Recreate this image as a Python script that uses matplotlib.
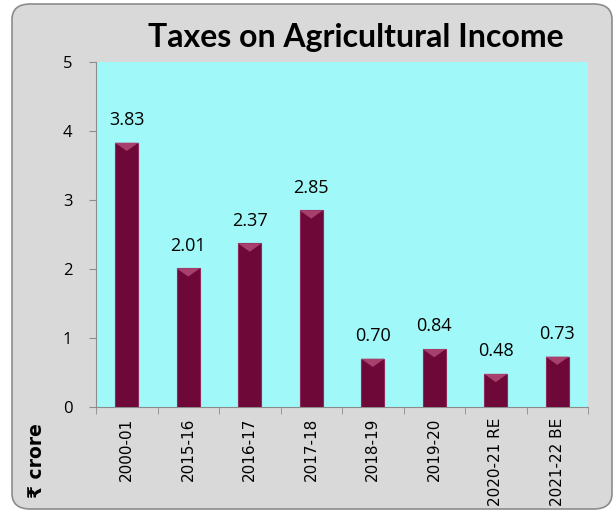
import matplotlib
matplotlib.use("Agg")
import matplotlib.pyplot as plt
from matplotlib.patches import FancyBboxPatch, Polygon

categories = ["2000-01", "2015-16", "2016-17", "2017-18", "2018-19", "2019-20", "2020-21 RE", "2021-22 BE"]
values = [3.83, 2.01, 2.37, 2.85, 0.70, 0.84, 0.48, 0.73]
value_labels = ["3.83", "2.01", "2.37", "2.85", "0.70", "0.84", "0.48", "0.73"]
yticks = [0, 1, 2, 3, 4, 5]

fig = plt.figure(figsize=(6.16, 5.16), dpi=100)
fig.patch.set_facecolor("white")

W, H = 616, 516
box = FancyBboxPatch((12 / W, 7 / H), (612 - 12) / W, (512 - 7) / H,
                     boxstyle="round,pad=0,rounding_size=0.03",
                     transform=fig.transFigure, facecolor="#d9d9d9",
                     edgecolor="#8c8c8c", linewidth=1.2, zorder=-5)
fig.patches.append(box)

ax = fig.add_axes([96 / W, 1 - 407 / H, (588 - 96) / W, (407 - 62) / H])
ax.set_zorder(2)
ax.set_facecolor("#a0f8f8")
x = list(range(len(categories)))
bw = 0.38
bars = ax.bar(x, values, width=bw, color="#6e0838", edgecolor="#8e2a58", linewidth=0.8, zorder=3)
# bevel highlight on top of each bar
for b in bars:
    x0, w, h = b.get_x(), b.get_width(), b.get_height()
    d = 0.12
    tri = Polygon([(x0, h), (x0 + w, h), (x0 + w / 2, h - d)], closed=True,
                  facecolor="#a8406e", edgecolor="none", zorder=4)
    ax.add_patch(tri)
for xi, v, lab in zip(x, values, value_labels):
    ax.text(xi, v + 0.2, lab, ha="center", va="bottom", fontsize=13, family="Open Sans", color="black")

ax.set_xlim(-0.5, len(categories) - 0.5)
ax.set_ylim(0, 5)
ax.set_yticks(yticks)
ax.set_yticklabels([str(t) for t in yticks], fontsize=12, family="Open Sans")
ax.set_xticks(x)
ax.set_xticklabels(categories, rotation=90, fontsize=11, family="DejaVu Sans")
ax.set_xticks([i - 0.5 for i in range(len(categories) + 1)], minor=True)
ax.tick_params(axis="x", which="major", length=0, pad=8)
ax.tick_params(axis="x", which="minor", length=5, color="#8c8c8c", direction="out")
ax.tick_params(axis="y", length=5, color="#8c8c8c", direction="out", pad=12)
for s in ["top", "right"]:
    ax.spines[s].set_visible(False)
for s in ["left", "bottom"]:
    ax.spines[s].set_color("#8c8c8c")

fig.text(356 / W, 1 - 38 / H, "Taxes on Agricultural Income", ha="center", va="center",
         fontsize=23, fontweight="bold", family="Lato")
fig.text(36 / W, 1 - 461 / H, "₹ crore", ha="center", va="center", rotation=90,
         fontsize=13.5, fontweight="bold", family=["DejaVu Sans"])

fig.savefig("out.png", dpi=100)
